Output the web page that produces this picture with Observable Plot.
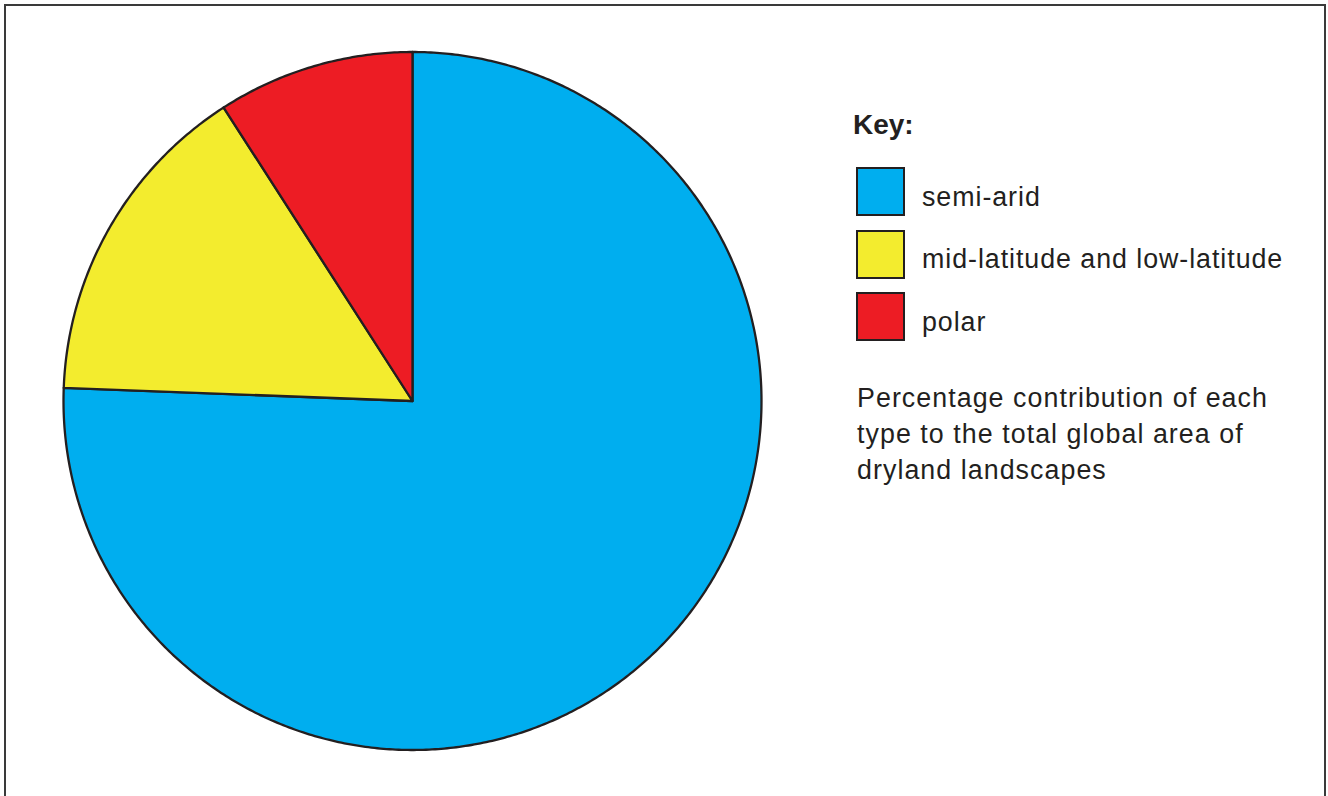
<!DOCTYPE html>
<html>
<head>
<meta charset="utf-8">
<script src="https://cdn.jsdelivr.net/npm/d3@7"></script>
<script src="https://cdn.jsdelivr.net/npm/@observablehq/plot@0.6"></script>
<style>
  html, body { margin: 0; padding: 0; background: #fff; }
  body { width: 1328px; height: 796px; overflow: hidden; position: relative; font-family: "Liberation Sans", Arial, Helvetica, sans-serif; color: #231F20; }
  #frame { position: absolute; left: 4px; top: 4px; width: 1322px; height: 800px; border: 2px solid #3a3a3a; border-bottom: none; box-sizing: border-box; }
  #chart { position: absolute; left: 0; top: 0; }
  .key { position: absolute; left: 853px; top: 111px; font-weight: bold; font-size: 28px; line-height: 28px; white-space: nowrap; }
  .sw { position: absolute; left: 856px; width: 49px; height: 49px; box-sizing: border-box; border: 2px solid #231F20; }
  .lab { position: absolute; left: 922px; font-size: 26.8px; line-height: 26.8px; letter-spacing: 0.95px; white-space: nowrap; }
  #caption { position: absolute; left: 857px; top: 380px; font-size: 26.8px; line-height: 36px; letter-spacing: 1.05px; white-space: nowrap; }
</style>
</head>
<body>
<div id="frame"></div>
<div id="chart"></div>
<div id="legend"></div>
<div id="caption">Percentage contribution of each<br>type to the total global area of<br>dryland landscapes</div>
<script>
// Data, slices start at 12 o'clock and go clockwise
const categories = ["semi-arid", "mid-latitude and low-latitude", "polar"];
const values = [75.6, 15.3, 9.1];
const colors = ["#00AEEF", "#F3EC2E", "#ED1C24"];

// Build slice outlines from the data via d3.pie
const pie = d3.pie().sort(null).value(d => d.value)
  .startAngle(0).endAngle(2 * Math.PI);
const arcs = pie(categories.map((c, i) => ({category: c, value: values[i]})));
const pts = [];
for (const a of arcs) {
  const cat = a.data.category;
  pts.push({category: cat, x: 0, y: 0});
  const n = Math.max(2, Math.ceil((a.endAngle - a.startAngle) / (Math.PI / 360)));
  for (let k = 0; k <= n; k++) {
    const t = a.startAngle + (a.endAngle - a.startAngle) * k / n;
    pts.push({category: cat, x: Math.sin(t), y: Math.cos(t)});
  }
}

const chart = Plot.plot({
  width: 1328,
  height: 796,
  margin: 0,
  x: {domain: [-1, 1], range: [63, 761], axis: null},
  y: {domain: [-1, 1], range: [749.5, 51.5], axis: null},
  color: {domain: categories, range: colors},
  style: {background: "transparent", overflow: "visible"},
  marks: [
    Plot.line(pts, {
      x: "x", y: "y", z: "category", fill: "category",
      stroke: "#231F20", strokeWidth: 2.3, strokeLinejoin: "round",
      curve: "linear-closed"
    })
  ]
});
document.getElementById("chart").appendChild(chart);

// Legend
const legend = document.getElementById("legend");
const key = document.createElement("div");
key.className = "key";
key.textContent = "Key:";
legend.appendChild(key);
categories.forEach((c, i) => {
  const top = 167 + i * 62.5;
  const sw = document.createElement("div");
  sw.className = "sw";
  sw.style.top = top + "px";
  sw.style.background = colors[i];
  const lab = document.createElement("div");
  lab.className = "lab";
  lab.style.top = (top + 16.5) + "px";
  lab.textContent = c;
  legend.appendChild(sw);
  legend.appendChild(lab);
});
</script>
</body>
</html>
